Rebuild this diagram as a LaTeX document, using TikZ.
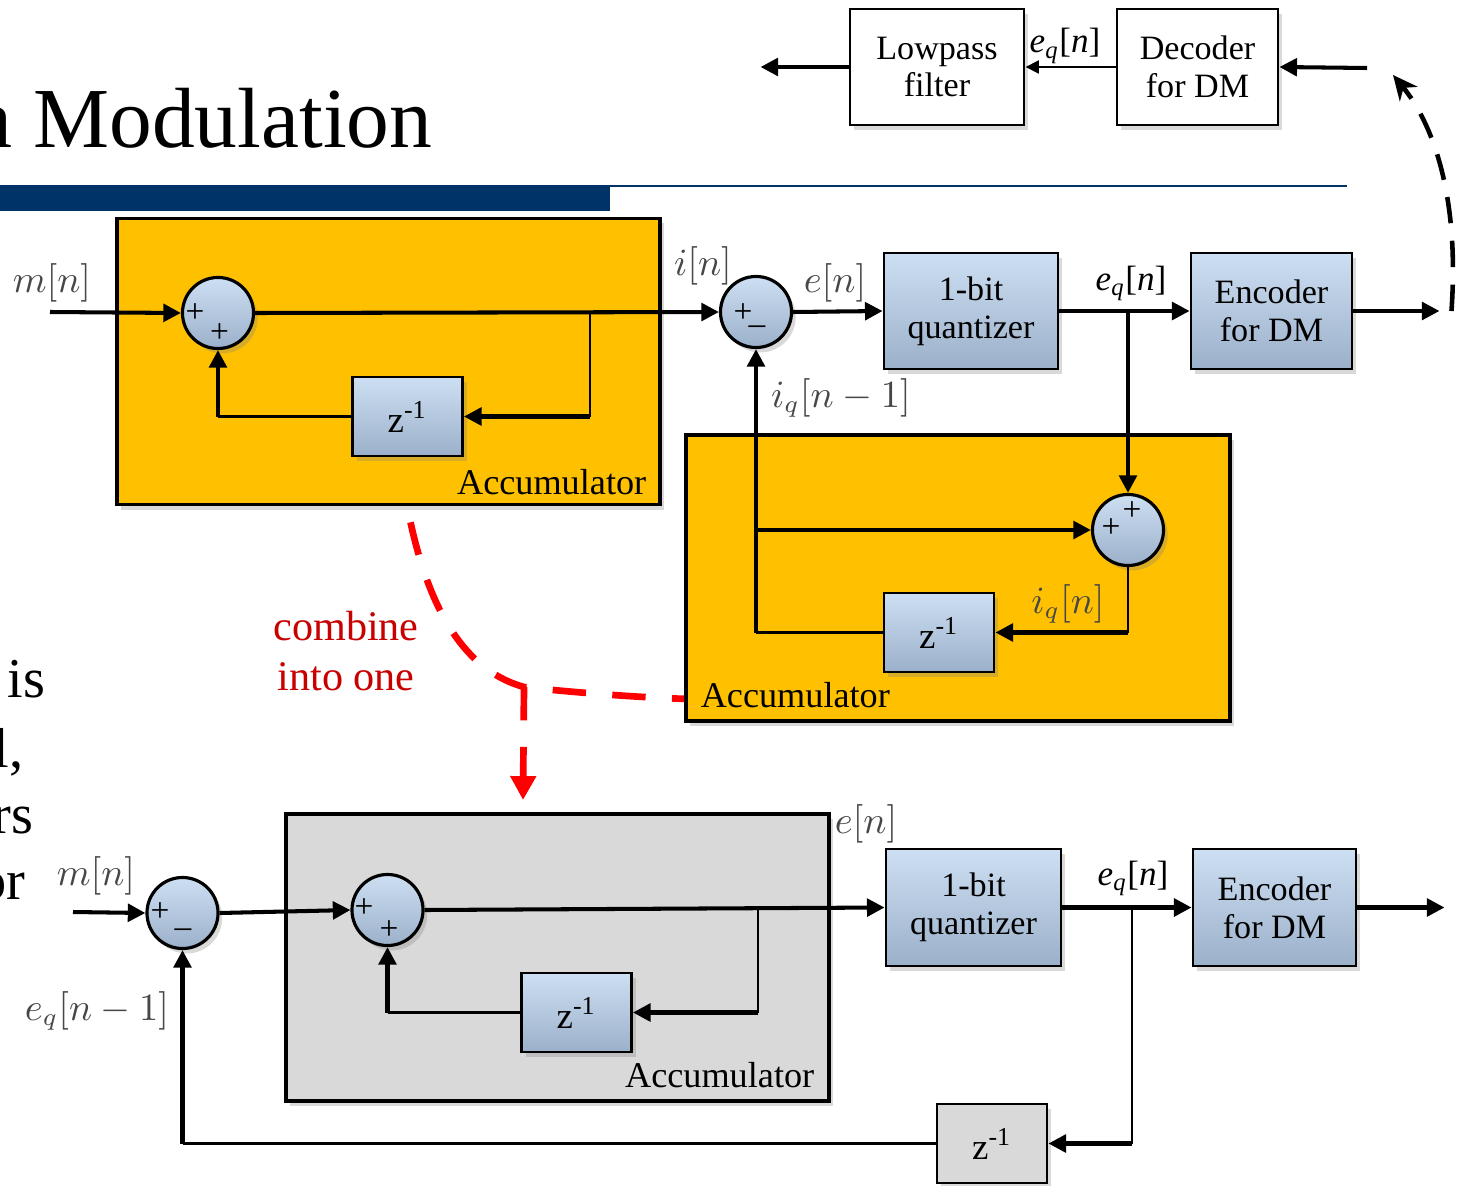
\documentclass[tikz,border=0pt]{standalone}
\usepackage[no-math]{fontspec}
\setmainfont{Liberation Serif}
\usepackage{tikz}
\usetikzlibrary{positioning, arrows.meta, calc, shadows}
\definecolor{blkTop}{RGB}{205,223,242}
\definecolor{blkBot}{RGB}{155,176,202}
\definecolor{accYellow}{RGB}{255,192,0}
\definecolor{accGray}{RGB}{217,217,217}
\definecolor{slideNavy}{RGB}{0,52,104}
\definecolor{combRed}{RGB}{255,0,0}
\definecolor{noteRed}{RGB}{200,0,0}
\tikzset{
  sig/.style={line width=1.15pt, -{Triangle[length=5pt, width=5pt]}},
  wire/.style={line width=1.15pt},
  thinw/.style={line width=0.6pt},
  thinsig/.style={line width=0.8pt, -{Triangle[length=3.8pt, width=3.6pt]}},
  shade/.style={drop shadow={shadow xshift=1.2pt, shadow yshift=-1.4pt, opacity=0.3}},
  blk/.style={draw, line width=0.8pt, top color=blkTop, bottom color=blkBot, minimum height=1.16cm, align=center, font=\fontsize{9.7}{10.8}\selectfont, shade},
  wblk/.style={draw, line width=0.8pt, fill=white, minimum height=1.16cm, align=center, font=\fontsize{9.7}{10.8}\selectfont, shade},
  dly/.style={blk, minimum width=1.1cm, minimum height=0.79cm, font=\fontsize{10.5}{12}\selectfont},
  gdly/.style={draw, line width=0.8pt, fill=accGray, minimum width=1.1cm, minimum height=0.79cm, font=\fontsize{10.5}{12}\selectfont, shade},
  adder/.style={circle, draw, line width=0.9pt, top color=blkTop, bottom color=blkBot, minimum size=0.71cm, inner sep=0pt, shade},
  sgn/.style={inner sep=0pt, font=\fontsize{9.5}{10}\selectfont},
  acc/.style={draw, line width=1pt, fill=accYellow, minimum width=5.43cm, minimum height=2.86cm, shade},
  acclbl/.style={inner sep=0pt, font=\fontsize{10.3}{12}\selectfont},
  sglbl/.style={inner sep=0pt, text=black!72, font=\fontsize{10.5}{12}\selectfont},
  eqlbl/.style={inner sep=0pt, font=\fontsize{10}{12}\selectfont},
  bodytxt/.style={inner sep=0pt, font=\fontsize{16}{19}\selectfont},
  combine/.style={draw=combRed, line width=1.9pt, dash pattern=on 9.5pt off 7.5pt},
  dmlink/.style={line width=1.3pt, dash pattern=on 7.5pt off 5pt, -{Stealth[length=7pt, width=6.5pt]}}
}

\begin{document}
\begin{tikzpicture}[x=0.01cm, y=-0.01cm]
  \useasboundingbox (0,0) rectangle (1461,1185);
  \clip (0,0) rectangle (1461,1185);

  % slide title and bar
  \node[inner sep=0pt, font=\fontsize{24.3}{28}\selectfont, anchor=base east] (title) at (433,147) {a Modulation};
  \fill[slideNavy] (0,186) rectangle (610,211);
  \draw[slideNavy, line width=0.8pt] (0,186) -- (1347,186);

  \node[bodytxt, anchor=base east] (frag1) at (46,697) {is};
  \node[bodytxt, anchor=base east] (frag2) at (24,767) {l,};
  \node[bodytxt, anchor=base east] (frag3) at (34,833) {rs};
  \node[bodytxt, anchor=base east] (frag4) at (26,899) {or};

  % receiver
  \node[wblk, minimum width=1.74cm] (lpf) at (937,67) {Lowpass\\filter};
  \node[wblk, minimum width=1.61cm] (dec) at (1197.5,67) {Decoder\\for DM};
  \coordinate (decIn) at (1367,68);
  \draw[sig] (lpf.west) -- ++(-88,0);
  \draw[thinsig] (dec.west) -- (lpf.east);
  \draw[sig] (decIn) -- (dec.east);
  \node[eqlbl, anchor=base] (eqTop) at (1065,53) {\textit{e}\textsubscript{\textit{q}}[\textit{n}]};

  % top: two accumulators
  \node[acc] (accA) at (388.5,361.5) {};
  \node[acclbl, anchor=base east] (accAlbl) at ($(accA.south east)+(-15,-12)$) {Accumulator};
  \node[acc, minimum width=5.44cm] (accB) at (958,578) {};
  \node[acclbl, anchor=base west] (accBlbl) at ($(accB.south west)+(16,-15)$) {Accumulator};

  \node[adder] (sA) at (218,313) {};
  \node[sgn] (sAp1) at ($(sA)+(-23,0)$) {+};
  \node[sgn] (sAp2) at ($(sA)+(1.5,20)$) {+};
  \node[dly] (zA) at (407.5,416.5) {z\textsuperscript{-1}};

  \node[adder] (sB) at (756,312) {};
  \node[sgn] (sBp) at ($(sB)+(-13,1)$) {+};
  \node[sgn] (sBm) at ($(sB)+(1,18)$) {–};
  \node[blk, minimum width=1.74cm] (qA) at (971,311) {1-bit\\quantizer};
  \node[blk, minimum width=1.61cm] (encA) at (1271.5,311) {Encoder\\for DM};

  \node[adder] (sC) at (1128,530) {};
  \node[sgn] (sCp1) at ($(sC)+(4,-19)$) {+};
  \node[sgn] (sCp2) at ($(sC)+(-17,-2)$) {+};
  \node[dly] (zB) at (939,632.5) {z\textsuperscript{-1}};

  \node[sglbl, anchor=base] (mA) at (52,292) {$m[n]$};
  \node[sglbl, anchor=base] (iA) at (703,275) {$i[n]$};
  \node[sglbl, anchor=base] (eA) at (835,292) {$e[n]$};
  \node[eqlbl, anchor=base] (eqA) at (1131,290) {\textit{e}\textsubscript{\textit{q}}[\textit{n}]};
  \node[sglbl, anchor=base] (iqm) at (841,407) {$i_q[n-1]$};
  \node[sglbl, anchor=base] (iqn) at (1068,613) {$i_q[n]$};

  \coordinate (mAin) at (50,312);
  \coordinate (brA) at (590,313);
  \draw[sig] (mAin) -- (sA.west);
  \draw[sig] (sA.east) -- (sB.west);
  \draw[thinw] (brA) -- (brA |- zA.east);
  \draw[sig] (brA |- zA.east) -- (zA.east);
  \draw[thinw] (zA.west) -- (sA.south |- zA.west);
  \draw[sig] (sA.south |- zA.west) -- (sA.south);

  \coordinate (brB) at (1128,312);
  \draw[sig] (sB.east) -- (qA.west);
  \draw[sig] (qA.east) -- (encA.west);
  \draw[sig] (encA.east) -- ++(86,0) coordinate (outA);
  \draw[sig] (brB) -- (sC.north);
  \draw[thinw] (sC.south) -- (sC.south |- zB.east);
  \draw[sig] (sC.south |- zB.east) -- (zB.east);
  \draw[line width=0.8pt] (zB.west) -- (sB.south |- zB.west);
  \draw[sig] (sB.south |- zB.west) -- (sB.south);
  \draw[sig] (sB.south |- sC.west) -- (sC.west);

  % channel link
  \coordinate (dmTip) at (1393,75);
  \draw[dmlink] ($(outA)+(12,0)$) .. controls (1460,190) and (1430,120) .. (dmTip);

  % combine hint
  \node[inner sep=0pt, text=noteRed, align=center, font=\fontsize{12}{14.2}\selectfont, anchor=base] (combLbl) at (346,690) {combine\\into one};
  \coordinate (jn) at (524,687);
  \coordinate (combTip) at (523,800);
  \draw[combine] ($(accA.south)+(22,16)$) .. controls (432,620) and (470,672) .. (jn)
    .. controls (570,692) and (630,697) .. ($(accB.south west)+(0,-24)$);
  \draw[combine, -{Triangle[length=6.8pt, width=7pt]}] (jn) -- (combTip);

  % bottom: single accumulator
  \node[acc, fill=accGray, minimum height=2.87cm] (accC) at (557.5,957.5) {};
  \node[acclbl, anchor=base east] (accClbl) at ($(accC.south east)+(-16,-15)$) {Accumulator};

  \node[adder] (sD) at (182.5,913) {};
  \node[sgn] (sDp) at ($(sD)+(-22.5,-1)$) {+};
  \node[sgn] (sDm) at ($(sD)+(0.5,20)$) {–};
  \node[adder] (sE) at (387.5,910) {};
  \node[sgn] (sEp1) at ($(sE)+(-23.5,-2)$) {+};
  \node[sgn] (sEp2) at ($(sE)+(1.5,20)$) {+};
  \node[dly] (zC) at (576.5,1012.5) {z\textsuperscript{-1}};
  \node[blk, minimum width=1.75cm, minimum height=1.17cm] (qB) at (973.5,907.5) {1-bit\\quantizer};
  \node[blk, minimum width=1.63cm, minimum height=1.17cm] (encB) at (1274.5,907.5) {Encoder\\for DM};
  \node[gdly] (zD) at (992,1143.5) {z\textsuperscript{-1}};

  \node[sglbl, anchor=base] (mB) at (96,885) {$m[n]$};
  \node[sglbl, anchor=base] (eqm) at (97,1020) {$e_q[n-1]$};
  \node[sglbl, anchor=base] (eB) at (866,833) {$e[n]$};
  \node[eqlbl, anchor=base] (eqB) at (1133,885) {\textit{e}\textsubscript{\textit{q}}[\textit{n}]};

  \coordinate (mBin) at (73,912);
  \coordinate (brC) at (758,909);
  \coordinate (brD) at (1132,907);
  \draw[sig] (mBin) -- (sD.west);
  \draw[sig] (sD.east) -- (sE.west);
  \draw[sig] (sE.east) -- (qB.west);
  \draw[thinw] (brC) -- (brC |- zC.east);
  \draw[sig] (brC |- zC.east) -- (zC.east);
  \draw[thinw] (zC.west) -- (sE.south |- zC.west);
  \draw[sig] (sE.south |- zC.west) -- (sE.south);
  \draw[sig] (qB.east) -- (encB.west);
  \draw[sig] (encB.east) -- ++(87,0);
  \draw[thinw] (brD) -- (brD |- zD.east);
  \draw[sig] (brD |- zD.east) -- (zD.east);
  \draw[thinw] (zD.west) -- (sD.south |- zD.west);
  \draw[sig] (sD.south |- zD.west) -- (sD.south);
\end{tikzpicture}
\end{document}
